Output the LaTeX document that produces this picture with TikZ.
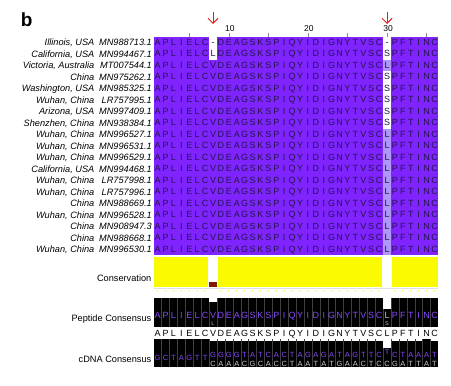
\documentclass[tikz,border=0pt]{standalone}
\usepackage{fontspec}
\setmainfont{Liberation Sans}
\usetikzlibrary{arrows.meta}

\definecolor{alnpurple}{RGB}{128,36,255}
\definecolor{alnlight}{RGB}{176,150,250}
\definecolor{alnletter}{RGB}{36,20,76}
\definecolor{consyellow}{RGB}{250,250,0}
\definecolor{consred}{RGB}{128,24,0}
\definecolor{conspurple}{RGB}{140,72,255}
\definecolor{mutred}{RGB}{232,30,30}

\def\xo{153.7}   % left edge of column 1
\def\colw{7.91}
\def\yo{36.5}
\def\rowh{11.5}
\def\pepseq{A,P,L,I,E,L,C,V,D,E,A,G,S,K,S,P,I,Q,Y,I,D,I,G,N,Y,T,V,S,C,L,P,F,T,I,N,C}

\tikzset{
  res/.style={font=\fontsize{9}{9}\selectfont, text=alnletter, inner sep=0pt, anchor=base},
  seqname/.style={font=\fontsize{9.2}{10}\selectfont\itshape, anchor=base east, inner sep=0pt},
  annlabel/.style={font=\fontsize{9.2}{10}\selectfont, anchor=base east, inner sep=0pt},
  rulerlabel/.style={font=\fontsize{8.5}{8.5}\selectfont, anchor=base, inner sep=0pt},
  conres/.style={font=\fontsize{9}{9}\selectfont, text=conspurple, inner sep=0pt, anchor=base},
  altres/.style={font=\fontsize{5.5}{6}\selectfont, text=black!25, inner sep=0pt, anchor=base},
  nucl/.style={font=\fontsize{7.5}{7.5}\selectfont, text=conspurple, inner sep=0pt, anchor=base},
  nuclalt/.style={font=\fontsize{7.5}{7.5}\selectfont, text=black!20, inner sep=0pt, anchor=base},
  conservstar/.style={font=\fontsize{6}{6}\selectfont, text=consyellow, inner sep=0pt, anchor=base},
  colsep/.style={draw=black!75, line width=0.4pt},
  mutarrow/.style={draw=mutred, line width=1pt, -{Straight Barb[length=5pt,width=10pt]}},
}

\begin{document}
\begin{tikzpicture}[x=1pt,y=-1pt]
\useasboundingbox (0,0) rectangle (451,386);

\node[font=\bfseries\fontsize{19}{19}\selectfont, anchor=base west, inner sep=0pt] (panel) at (20.7,26.7) {b};

% mutation arrows
\coordinate (mutAtop) at ({\xo+7.5*\colw},12);
\coordinate (mutAtip) at ({\xo+7.5*\colw},24);
\coordinate (mutBtop) at ({\xo+29.5*\colw},12);
\coordinate (mutBtip) at ({\xo+29.5*\colw},24);
\draw[mutarrow] (mutAtop) -- (mutAtip);
\draw[mutarrow] (mutBtop) -- (mutBtip);

% ruler
\foreach \c in {5,10,...,35}
  \draw[black!45] ({\xo+(\c-0.5)*\colw},32.5) -- ({\xo+(\c-0.5)*\colw},36.5);
\foreach \c in {10,20,30}
  \node[rulerlabel] (tick\c) at ({\xo+(\c-0.5)*\colw+1},31) {\c};

% alignment
\fill[alnpurple] (\xo,\yo) rectangle ({\xo+36*\colw},{\yo+19*\rowh});
\foreach \nm/\acc/\ca/\cb/\bga/\bgb [count=\r] in {
  {Illinois, USA}/MN988713.1/-/-/white/white,
  {California, USA}/MN994467.1/L/S/white/white,
  {Victoria, Australia}/MT007544.1/V/L/alnpurple/alnlight,
  {China}/MN975262.1/V/S/alnpurple/white,
  {Washington, USA}/MN985325.1/V/S/alnpurple/white,
  {Wuhan, China}/LR757995.1/V/S/alnpurple/white,
  {Arizona, USA}/MN997409.1/V/S/alnpurple/white,
  {Shenzhen, China}/MN938384.1/V/S/alnpurple/white,
  {Wuhan, China}/MN996527.1/V/L/alnpurple/alnlight,
  {Wuhan, China}/MN996531.1/V/L/alnpurple/alnlight,
  {Wuhan, China}/MN996529.1/V/L/alnpurple/alnlight,
  {California, USA}/MN994468.1/V/L/alnpurple/alnlight,
  {Wuhan, China}/LR757998.1/V/L/alnpurple/alnlight,
  {Wuhan, China}/LR757996.1/V/L/alnpurple/alnlight,
  {China}/MN988669.1/V/L/alnpurple/alnlight,
  {Wuhan, China}/MN996528.1/V/L/alnpurple/alnlight,
  {China}/MN908947.3/V/L/alnpurple/alnlight,
  {China}/MN988668.1/V/L/alnpurple/alnlight,
  {Wuhan, China}/MN996530.1/V/L/alnpurple/alnlight}{
  \pgfmathsetmacro\yc{\yo+(\r-0.5)*\rowh}
  \fill[\bga] ({\xo+7*\colw},{\yc-\rowh/2}) rectangle +(\colw,\rowh);
  \fill[\bgb] ({\xo+29*\colw},{\yc-\rowh/2}) rectangle +(\colw,\rowh);
  \node[seqname] (name\r) at (94.5,{\yc+3.3}) {\nm};
  \node[seqname] (acc\r) at (152,{\yc+3.3}) {\acc};
  \foreach \aa [count=\c] in \pepseq {
    \ifnum\c=8 \let\ch\ca \else \ifnum\c=30 \let\ch\cb \else \let\ch\aa \fi\fi
    \node[res] (s\r c\c) at ({\xo+(\c-0.5)*\colw},{\yc+3.2}) {\ch};
  }
}

% conservation
\node[annlabel] (conslabel) at (151.5,281) {Conservation};
\fill[consyellow] (\xo,257) rectangle ({\xo+36*\colw},287);
\fill[white] ({\xo+7*\colw-0.6},256.5) rectangle ({\xo+8*\colw+0.6},287.5);
\fill[white] ({\xo+29*\colw-0.6},256.5) rectangle ({\xo+30*\colw+0.6},287.5);
\fill[consred] ({\xo+7*\colw-0.4},282) rectangle ({\xo+8*\colw+0.4},287);
\draw[black!12] (\xo,288.5) -- ({\xo+36*\colw},288.5);
\foreach \c in {1,...,36}{
  \ifnum\c=8 \else \ifnum\c=30 \else
    \node[conservstar] (star\c) at ({\xo+(\c-0.5)*\colw},294.5) {*};
  \fi\fi
}

% peptide consensus
\node[annlabel] (peplabel) at (151.5,321) {Peptide Consensus};
\fill[black] (\xo,298) rectangle ({\xo+36*\colw},327);
\foreach \c in {1,...,35}
  \draw[colsep] ({\xo+\c*\colw},298) -- ({\xo+\c*\colw},327);
\fill[white] ({\xo+7*\colw},297.5) rectangle ({\xo+8*\colw},302);
\fill[white] ({\xo+29*\colw},297.5) rectangle ({\xo+30*\colw},309);
\foreach \aa [count=\c] in \pepseq {
  \ifnum\c=30
    \node[conres, text=black!25] (pc\c) at ({\xo+(\c-0.5)*\colw},318.5) {\aa};
  \else
    \node[conres] (pc\c) at ({\xo+(\c-0.5)*\colw},318.5) {\aa};
  \fi
  \node[res, text=black] (ps\c) at ({\xo+(\c-0.5)*\colw},336.5) {\aa};
}
\node[altres] (pcalt8) at ({\xo+7.5*\colw},325) {L};
\node[altres] (pcalt30) at ({\xo+29.5*\colw},325) {S};

% cDNA consensus
\node[annlabel] (cdnalabel) at (151.5,362) {cDNA Consensus};
\fill[black] (\xo,341) rectangle ({\xo+36*\colw},367);
\fill[black] (\xo,338.5) rectangle ({\xo+7*\colw},341);
\fill[black] ({\xo+34*\colw},338.5) rectangle ({\xo+35*\colw},341);
\foreach \c in {1,...,35}
  \draw[colsep] ({\xo+\c*\colw},339) -- ({\xo+\c*\colw},367);
\fill[white] ({\xo+29*\colw},338) rectangle ({\xo+30*\colw},347.5);
\foreach \nt [count=\i] in {G,C,T,A,G,T,T}
  \node[nucl] (cu\i) at ({\xo+(\i-0.5)*\colw},360.8) {\nt};
\foreach \nt [count=\i from 8] in {G,G,G,G,T,A,T,C,A,C,T,A,G,A,G,A,T,A,G,T,T,C,T,C,T,A,A,A,T}{
  \pgfmathsetmacro\ny{\i==30 ? 354.5 : 357.8}
  \node[nucl] (cu\i) at ({\xo+(\i-0.5)*\colw},\ny) {\nt};
}
\foreach \nt [count=\i from 8] in {C,A,A,A,C,G,C,A,C,C,T,A,A,T,A,T,G,A,A,C,T,C,C,G,A,T,T,A,T}
  \node[nuclalt] (cl\i) at ({\xo+(\i-0.5)*\colw},366) {\nt};
\end{tikzpicture}
\end{document}
